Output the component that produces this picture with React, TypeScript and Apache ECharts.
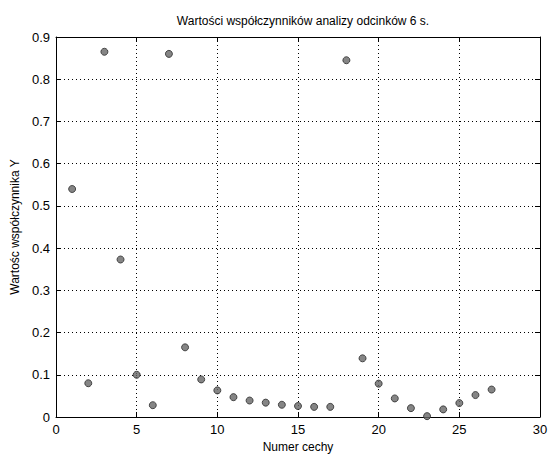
import React, { useEffect, useRef } from "react";
import * as echarts from "echarts";

const featureNumbers = [1,2,3,4,5,6,7,8,9,10,11,12,13,14,15,16,17,18,19,20,21,22,23,24,25,26,27];
const yValues = [0.54,0.08,0.865,0.373,0.10,0.028,0.86,0.165,0.089,0.063,0.047,0.039,0.034,0.029,0.026,0.024,0.024,0.845,0.139,0.079,0.044,0.021,0.002,0.018,0.033,0.052,0.065];

const titleText = "Wartości współczynników analizy odcinków 6 s.";
const xName = "Numer cechy";
const yName = "Wartośc współczynnika Y";

export default function App() {
  const ref = useRef<HTMLDivElement>(null);
  useEffect(() => {
    if (!ref.current) return;
    const chart = echarts.init(ref.current, null, { renderer: "svg" });
    const font = "Liberation Sans, Arial, sans-serif";
    const gridLine = { show: true, lineStyle: { color: "#000", type: [1, 3] as any, width: 1 } };
    chart.setOption({
      animation: false,
      backgroundColor: "#fff",
      textStyle: { fontFamily: font },
      title: {
        text: titleText,
        left: 298,
        top: 10,
        textAlign: "center",
        textStyle: { fontSize: 12, fontWeight: "normal", color: "#000", fontFamily: font },
      },
      grid: { left: 56, right: 8, top: 37, bottom: 37, show: false, containLabel: false, outerBoundsMode: "none" },
      xAxis: [
        {
          type: "value", min: 0, max: 30, interval: 5,
          name: xName, nameLocation: "middle", nameGap: 24,
          nameTextStyle: { fontSize: 12, color: "#000" },
          axisLine: { show: true, onZero: false, lineStyle: { color: "#000" } },
          axisTick: { show: true, inside: true, length: 5, lineStyle: { color: "#000" } },
          axisLabel: { fontSize: 13, color: "#000", margin: 6 },
          splitLine: gridLine,
        },
        {
          type: "value", min: 0, max: 30, interval: 5, position: "top",
          axisLine: { show: true, onZero: false, lineStyle: { color: "#000" } },
          axisTick: { show: true, inside: true, length: 5, lineStyle: { color: "#000" } },
          axisLabel: { show: false },
          splitLine: { show: false },
        },
      ],
      yAxis: [
        {
          type: "value", min: 0, max: 0.9, interval: 0.1,
          name: yName, nameLocation: "middle", nameGap: 34,
          nameTextStyle: { fontSize: 12, color: "#000" },
          axisLine: { show: true, onZero: false, lineStyle: { color: "#000" } },
          axisTick: { show: true, inside: true, length: 5, lineStyle: { color: "#000" } },
          axisLabel: { fontSize: 13, color: "#000", margin: 6, formatter: (v: number) => (v === 0 ? "0" : String(Math.round(v * 10) / 10)) },
          splitLine: gridLine,
        },
        {
          type: "value", min: 0, max: 0.9, interval: 0.1, position: "right",
          axisLine: { show: true, onZero: false, lineStyle: { color: "#000" } },
          axisTick: { show: true, inside: true, length: 5, lineStyle: { color: "#000" } },
          axisLabel: { show: false },
          splitLine: { show: false },
        },
      ],
      series: [
        {
          type: "scatter",
          symbol: "circle",
          symbolSize: 7,
          data: featureNumbers.map((x, i) => [x, yValues[i]]),
          itemStyle: { color: "#666", borderColor: "#2a2a2a", borderWidth: 1 },
          clip: false,
        },
      ],
    });
    return () => chart.dispose();
  }, []);
  return <div ref={ref} style={{ width: 548, height: 454, position: "absolute", left: 0, top: 0 }} />;
}
